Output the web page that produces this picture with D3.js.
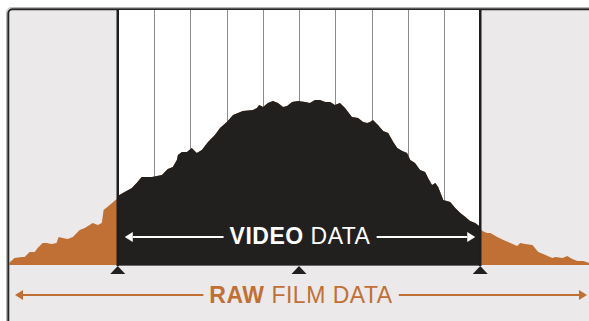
<!DOCTYPE html>
<html>
<head>
<meta charset="utf-8">
<script src="https://cdn.jsdelivr.net/npm/d3@7"></script>
<style>
  html, body { margin: 0; padding: 0; background: #ffffff; }
  svg { display: block; }
</style>
</head>
<body>
<script>
// Tonal histogram, horizontal axis in stops of exposure
const stops = [
  -3.00, -2.85, -2.65, -2.57, -2.43, -2.29, -2.21, -2.07, -1.96, -1.82, -1.69, -1.63,
  -1.52, -1.38, -1.24, -1.05, -0.91, -0.69, -0.55, -0.44, -0.39, -0.22, -0.03,
   0.00,  0.19,  0.39,  0.52,  0.66,  0.83,  0.94,  1.08,  1.22,  1.38,  1.52,  1.63,
   1.66,  1.77,  1.91,  2.04,  2.18,  2.32,  2.49,  2.68,  2.82,  3.01,  3.18,  3.45,
   3.73,  3.84,  3.90,  4.01,  4.14,  4.28,  4.42,  4.56,  4.67,  4.81,  4.97,  5.17,
   5.30,  5.44,  5.58,  5.72,  5.86,  5.99,  6.13,  6.27,  6.46,  6.63,  6.77,  6.88,
   6.96,  7.04,  7.18,  7.32,  7.46,  7.60,  7.71,  7.85,  7.98,  8.07,  8.20,  8.34,
   8.48,  8.56,  8.67,  8.76,  8.84,  8.98,  9.17,  9.31,  9.45,  9.59,  9.72,  9.86,
   9.97, 10.00, 10.06, 10.19, 10.28, 10.47, 10.64, 10.83, 11.02, 11.10, 11.24, 11.44,
  11.60, 11.80, 11.99, 12.07, 12.27, 12.40, 12.54, 12.68, 12.85, 13.00
];
const counts = [
    2,   7,   8,   8,  13,  13,  17,  22,  22,  21,  22,  28,
   27,  26,  28,  35,  37,  42,  40,  42,  55,  60,  66,
   69,  73,  77,  82,  88,  88,  88,  89,  90,  96,  98, 105,
  110, 113, 113, 117, 112, 115, 123, 130, 137, 143, 150, 154,
  155, 157, 160, 158, 162, 164, 162, 158, 159, 163, 164, 163,
  162, 165, 165, 163, 163, 160, 162, 157, 148, 147, 143, 142,
  143, 145, 140, 134, 132, 123, 117, 114, 112, 105, 102,  95,
   93,  87,  80,  82,  78,  65,  63,  57,  52,  48,  44,  42,
   39,  37,  34,  32,  32,  28,  25,  22,  19,  22,  21,  20,
   13,  10,   7,   8,   7,   9,   6,   4,   4,   2
];

const rawRange = [-3, 13];      // full latitude of the raw capture
const videoRange = [0, 10];     // latitude kept by the video encode
const gridStops = [1, 2, 3, 4, 5, 6, 7, 8, 9];
const markerStops = [0, 5, 10];
const videoLabel = ["VIDEO", "DATA"];
const rawLabel = ["RAW", "FILM DATA"];

const W = 589, H = 321;
const ORANGE = "#c17035";
const INK = "#221f1f";
const PANEL = "#ebe9ea";

const x = d3.scaleLinear().domain(rawRange).range([9, 589]);
const y = d3.scaleLinear().domain([0, 170]).range([265, 95]);
const plotTop = 10;

const svg = d3.select("body").append("svg")
  .attr("width", W).attr("height", H);

const defs = svg.append("defs");
defs.append("clipPath").attr("id", "video-clip")
  .append("rect")
  .attr("x", x(videoRange[0])).attr("y", 0)
  .attr("width", x(videoRange[1]) - x(videoRange[0])).attr("height", H);

// panel frame
svg.append("rect")
  .attr("x", 6.5).attr("y", 7.5).attr("width", 700).attr("height", 400)
  .attr("rx", 5).attr("fill", "none").attr("stroke", "#b8b8b8").attr("stroke-width", 1);
svg.append("rect")
  .attr("x", 8.3).attr("y", 9.3).attr("width", 700).attr("height", 400)
  .attr("rx", 4).attr("fill", PANEL).attr("stroke", "#262626").attr("stroke-width", 2);

// video window background
svg.append("rect")
  .attr("x", x(videoRange[0])).attr("y", plotTop)
  .attr("width", x(videoRange[1]) - x(videoRange[0]))
  .attr("height", y(0) - plotTop)
  .attr("fill", "#ffffff");

// stop grid
svg.append("g").selectAll("line").data(gridStops).join("line")
  .attr("x1", d => Math.round(x(d)) + 0.5).attr("x2", d => Math.round(x(d)) + 0.5)
  .attr("y1", plotTop).attr("y2", y(0))
  .attr("stroke", "#8c8c8c").attr("stroke-width", 1);

const data = stops.map((s, i) => ({ s, c: counts[i] }));
const area = d3.area()
  .x(d => x(d.s))
  .y0(y(0))
  .y1(d => y(d.c));

// raw histogram
svg.append("path").datum(data)
  .attr("d", area).attr("fill", ORANGE);

// part kept by video
svg.append("path").datum(data)
  .attr("d", area).attr("fill", INK)
  .attr("clip-path", "url(#video-clip)");

// baseline
svg.append("line")
  .attr("x1", x(videoRange[0])).attr("x2", x(videoRange[1]))
  .attr("y1", y(0) + 0.5).attr("y2", y(0) + 0.5)
  .attr("stroke", "#6a6a6a").attr("stroke-width", 1);

// window edges
svg.append("g").selectAll("line").data(videoRange).join("line")
  .attr("x1", d => x(d)).attr("x2", d => x(d))
  .attr("y1", plotTop).attr("y2", y(0) + 1)
  .attr("stroke", "#1e1e1e").attr("stroke-width", 2.5);

// markers under the axis
svg.append("g").selectAll("path").data(markerStops).join("path")
  .attr("d", d => {
    const cx = x(d), t = y(0) + 1;
    return `M${cx},${t}L${cx + 7.5},${t + 8}L${cx - 7.5},${t + 8}Z`;
  })
  .attr("fill", INK);

// double-headed arrow with a centred label
function labelledArrow(x0, x1, yy, color, words, baseline, gap, head) {
  const g = svg.append("g");
  const cx = (x0 + x1) / 2;
  const t = g.append("text")
    .attr("x", cx).attr("y", baseline)
    .attr("text-anchor", "middle")
    .attr("font-family", "'Liberation Sans', Arial, sans-serif")
    .attr("font-size", 23)
    .attr("letter-spacing", 0.5)
    .attr("fill", color);
  t.append("tspan").attr("font-weight", 700).text(words[0]);
  t.append("tspan").attr("font-weight", 400).text(" " + words[1]);
  const bb = t.node().getBBox();
  const lx = bb.x - gap, rx = bb.x + bb.width + gap;
  g.append("line").attr("x1", x0 + head).attr("x2", lx)
    .attr("y1", yy).attr("y2", yy).attr("stroke", color).attr("stroke-width", 2);
  g.append("line").attr("x1", rx).attr("x2", x1 - head)
    .attr("y1", yy).attr("y2", yy).attr("stroke", color).attr("stroke-width", 2);
  g.append("path")
    .attr("d", `M${x0},${yy}L${x0 + head},${yy - 5}L${x0 + head},${yy + 5}Z`)
    .attr("fill", color);
  g.append("path")
    .attr("d", `M${x1},${yy}L${x1 - head},${yy - 5}L${x1 - head},${yy + 5}Z`)
    .attr("fill", color);
}

labelledArrow(x(videoRange[0]) + 7, x(videoRange[1]) - 5, 237, "#ffffff", videoLabel, 244, 6, 8);
labelledArrow(x(rawRange[0]) + 6, x(rawRange[1]) - 2, 295, ORANGE, rawLabel, 303, 6, 8);
</script>
</body>
</html>
